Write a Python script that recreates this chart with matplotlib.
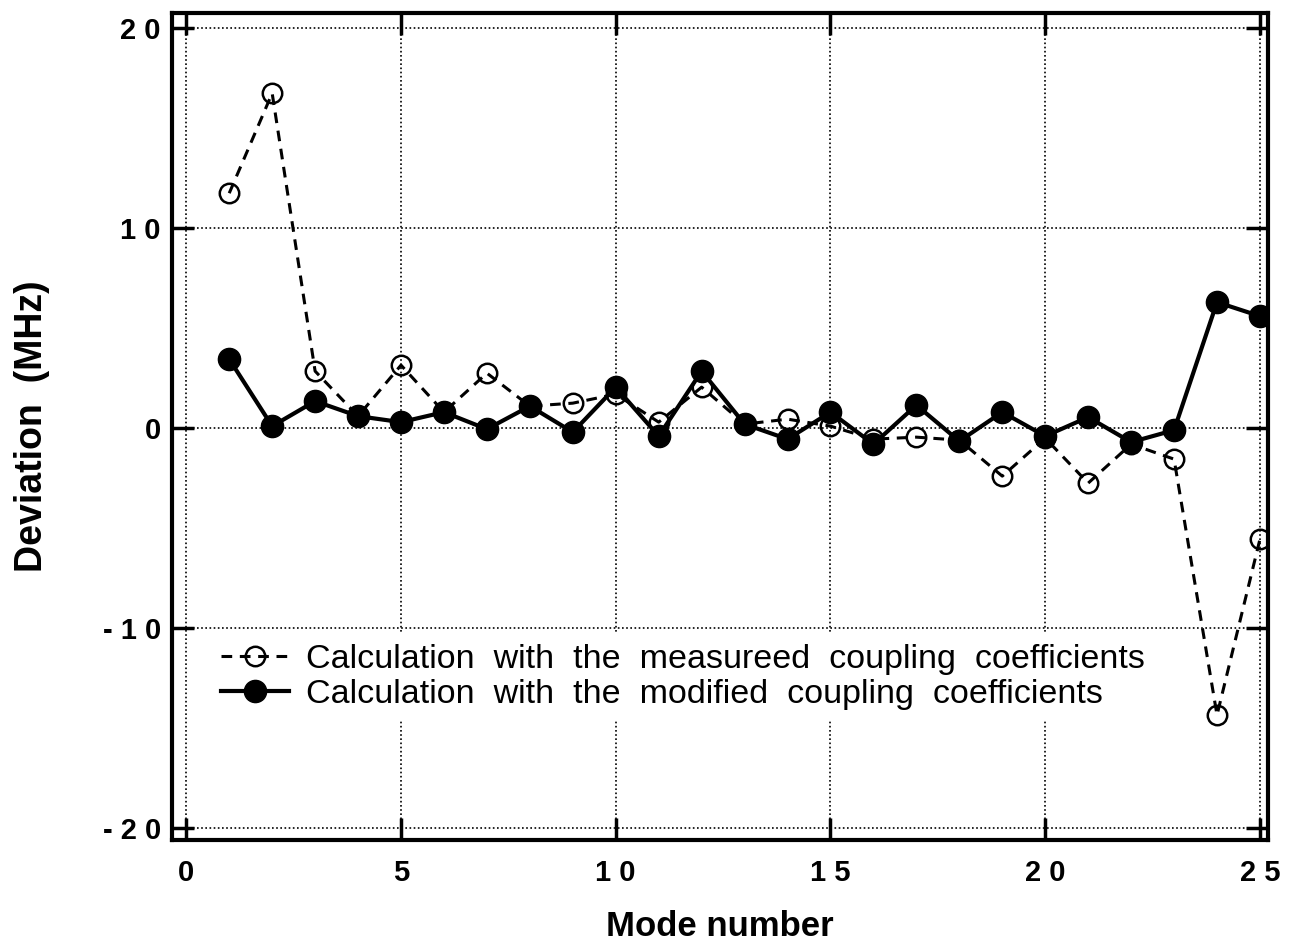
import numpy as np
import matplotlib.pyplot as plt

# mode numbers and deviations (MHz)
modes = np.arange(1, 26)
measured = [11.75, 16.75, 2.85, 0.6, 3.15, 0.8, 2.75, 1.1, 1.25, 1.7,
            0.3, 2.05, 0.2, 0.45, 0.1, -0.55, -0.45, -0.6, -2.4, -0.5,
            -2.75, -0.8, -1.55, -14.35, -5.55]
modified = [3.45, 0.1, 1.35, 0.6, 0.3, 0.8, -0.05, 1.1, -0.2, 2.05,
            -0.4, 2.85, 0.2, -0.55, 0.8, -0.8, 1.15, -0.65, 0.8, -0.4,
            0.55, -0.7, -0.1, 6.3, 5.6]

xticks = [0, 5, 10, 15, 20, 25]
xticklabels = ["0", "5", "1 0", "1 5", "2 0", "2 5"]
yticks = [-20, -10, 0, 10, 20]
yticklabels = ["- 2 0", "- 1 0", "0", "1 0", "2 0"]

label_meas = "Calculation  with  the  measureed  coupling  coefficients"
label_mod = "Calculation  with  the  modified  coupling  coefficients"

plt.rcParams['font.family'] = ['Liberation Sans', 'DejaVu Sans']

fig = plt.figure(figsize=(12.94, 9.46), dpi=100)
ax = fig.add_axes([0.133, 0.112, 0.847, 0.874])

ax.plot(modes, measured, color="black", linestyle=(0, (3.5, 2.5)), linewidth=2.2,
        marker="o", markersize=14, markerfacecolor="none", markeredgewidth=1.8,
        label=label_meas, zorder=3)
ax.plot(modes, modified, color="black", linestyle="-", linewidth=3,
        marker="o", markersize=16, markerfacecolor="black",
        label=label_mod, zorder=4)

ax.set_xlim(-0.33, 25.19)
ax.set_ylim(-20.6, 20.75)
ax.set_xticks(xticks, xticklabels)
ax.set_yticks(yticks, yticklabels)
ax.tick_params(direction="in", length=16, width=2.5, top=True, right=True,
               labelsize=21)
ax.tick_params(axis="x", pad=14)
ax.tick_params(axis="y", pad=8)
for lab in ax.get_xticklabels() + ax.get_yticklabels():
    lab.set_fontweight("bold")
for sp in ax.spines.values():
    sp.set_linewidth(3)

ax.grid(True, color="black", linestyle=(0, (1, 1.5)), linewidth=1.2)
ax.set_axisbelow(True)

ax.set_xlabel("Mode number", fontsize=25, fontweight="bold", labelpad=16)
ax.set_ylabel("Deviation  (MHz)", fontsize=27, fontweight="bold", labelpad=38)

leg = ax.legend(loc="upper left", bbox_to_anchor=(0.02, 0.27), fontsize=24.5,
                handlelength=2.0, handletextpad=0.5, labelspacing=0.12,
                frameon=True, fancybox=False, borderpad=0.3)
leg.get_frame().set_edgecolor("none")
leg.get_frame().set_facecolor("white")
leg.get_frame().set_alpha(1)

fig.savefig("out.png", dpi=100)
